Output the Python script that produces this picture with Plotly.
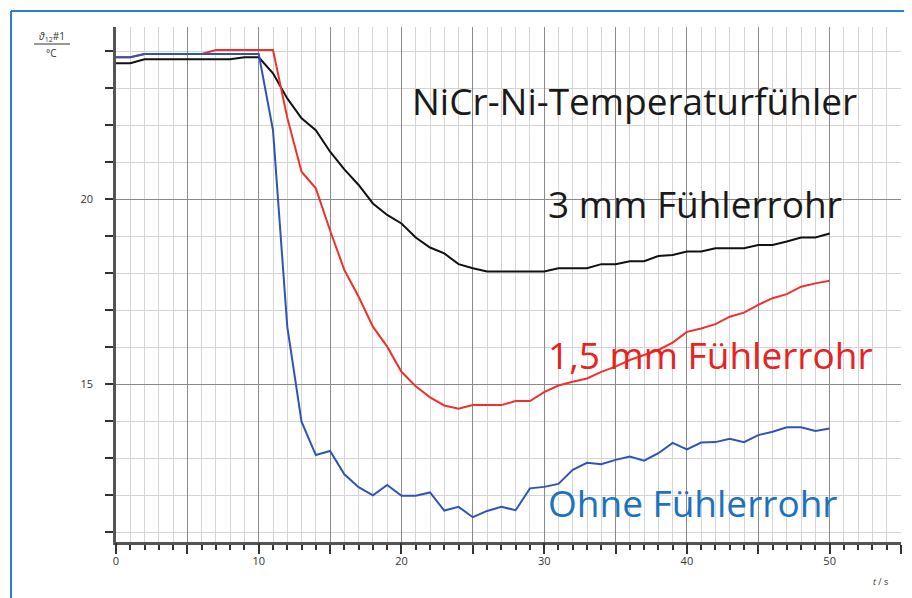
import plotly.graph_objects as go

t = list(range(0, 51))

black_3mm = [23.67, 23.67, 23.78, 23.78, 23.78, 23.78, 23.78, 23.78, 23.78, 23.83, 23.83,
             23.40, 22.72, 22.18, 21.86, 21.28, 20.80, 20.38, 19.88, 19.57, 19.34,
             18.96, 18.69, 18.53, 18.24, 18.13, 18.04, 18.04, 18.04, 18.04, 18.04,
             18.13, 18.13, 18.13, 18.24, 18.24, 18.32, 18.32, 18.46, 18.49, 18.58,
             18.58, 18.67, 18.67, 18.67, 18.76, 18.76, 18.85, 18.96, 18.96, 19.07]

red_15mm = [23.83, 23.83, 23.92, 23.92, 23.92, 23.92, 23.92, 24.03, 24.03, 24.03, 24.03,
            24.03, 22.20, 20.74, 20.29, 19.15, 18.08, 17.36, 16.55, 16.01, 15.33,
            14.94, 14.64, 14.42, 14.33, 14.43, 14.43, 14.43, 14.54, 14.54, 14.78,
            14.96, 15.06, 15.15, 15.33, 15.47, 15.65, 15.78, 15.92, 16.12, 16.41,
            16.50, 16.62, 16.82, 16.93, 17.14, 17.32, 17.43, 17.63, 17.72, 17.79]

blue_ohne = [23.83, 23.83, 23.92, 23.92, 23.92, 23.92, 23.92, 23.92, 23.92, 23.92, 23.92,
             21.86, 16.55, 13.98, 13.08, 13.19, 12.56, 12.21, 11.99, 12.27, 11.98,
             11.98, 12.07, 11.58, 11.68, 11.40, 11.57, 11.68, 11.59, 12.18, 12.22,
             12.30, 12.68, 12.87, 12.83, 12.95, 13.04, 12.93, 13.13, 13.41, 13.23,
             13.42, 13.43, 13.52, 13.43, 13.62, 13.71, 13.83, 13.83, 13.73, 13.80]

x_major_ticks = [0, 5, 10, 15, 20, 25, 30, 35, 40, 45, 50, 55]
x_label_vals = [0, 10, 20, 30, 40, 50]
x_label_text = ["0", "10", "20", "30", "40", "50"]
y_tickvals = [15, 20]
y_ticktext = ["15", "20"]

labels = ["NiCr-Ni-Temperaturfühler", "3 mm Fühlerrohr", "1,5 mm Fühlerrohr", "Ohne Fühlerrohr"]

# page has an 8px body margin; figure geometry is compensated for it
OFF = 8
W, H = 912 - OFF, 598 - OFF
L, T = 116 - OFF, 27 - OFF
R = W - (901 - OFF)
B = H - (542 - OFF)
pw, ph = W - L - R, H - T - B


def px_x(p):  # screen px -> paper
    return (p - OFF - L) / pw


def px_y(p):
    return (H - B - (p - OFF)) / ph


fig = go.Figure()
fig.add_trace(go.Scatter(x=t, y=black_3mm, mode="lines", line=dict(color="#111111", width=2), showlegend=False))
fig.add_trace(go.Scatter(x=t, y=red_15mm, mode="lines", line=dict(color="#f0302c", width=2), showlegend=False))
fig.add_trace(go.Scatter(x=t, y=blue_ohne, mode="lines", line=dict(color="#2f55b4", width=2), showlegend=False))

fig.update_layout(
    xaxis=dict(
        range=[0, 55], tickvals=x_major_ticks, showticklabels=False,
        ticks="outside", ticklen=9, tickwidth=1.5, tickcolor="#333333",
        showgrid=True, gridcolor="#8a8a8a", gridwidth=1,
        minor=dict(dtick=1, showgrid=True, gridcolor="#d4d4d4", gridwidth=1,
                   ticks="outside", ticklen=5, tickcolor="#333333", tickwidth=1.5),
        showline=True, linecolor="#555555", linewidth=2.5,
        zeroline=False,
    ),
    xaxis2=dict(
        overlaying="x", matches="x", anchor="y", side="bottom",
        range=[0, 55], tickvals=x_label_vals, ticktext=x_label_text,
        ticks="outside", ticklen=9, tickwidth=1.5, tickcolor="#333333",
        showgrid=False, showline=False, zeroline=False,
        tickfont=dict(family="Open Sans", size=11, color="#333333"),
    ),
    yaxis=dict(
        range=[10.73, 24.65], tickvals=y_tickvals, ticktext=y_ticktext,
        ticks="outside", ticklen=8, tickwidth=1.5, tickcolor="#333333",
        ticklabelstandoff=10,
        showgrid=True, gridcolor="#8a8a8a", gridwidth=1,
        minor=dict(dtick=1, showgrid=True, gridcolor="#d4d4d4", gridwidth=1,
                   ticks="outside", ticklen=8, tickcolor="#333333", tickwidth=1.5),
        showline=True, linecolor="#555555", linewidth=2.5,
        zeroline=False,
        tickfont=dict(family="Open Sans", size=11, color="#333333"),
    ),
)
# invisible helper trace so the label axis is drawn
fig.add_trace(go.Scatter(x=[x_label_vals[0]], y=[y_tickvals[0]], xaxis="x2", mode="markers",
                         marker=dict(opacity=0), hoverinfo="skip", showlegend=False))

# text labels
fig.add_annotation(x=20.6, y=22.65, text=labels[0], showarrow=False, xanchor="left", yanchor="middle",
                   font=dict(family="Open Sans", size=37, color="#1a1a1a"))
fig.add_annotation(x=30.15, y=19.88, text=labels[1], showarrow=False, xanchor="left", yanchor="middle",
                   font=dict(family="Open Sans", size=37, color="#1a1a1a"))
fig.add_annotation(x=30.15, y=15.8, text=labels[2], showarrow=False, xanchor="left", yanchor="middle",
                   font=dict(family="Open Sans", size=37, color="#e8221f"))
fig.add_annotation(x=30.15, y=11.8, text=labels[3], showarrow=False, xanchor="left", yanchor="middle",
                   font=dict(family="Open Sans", size=37, color="#1b72c0"))

# axis titles
fig.add_annotation(xref="paper", yref="paper", x=px_x(52), y=px_y(37),
                   text="<i>ϑ</i><sub>12</sub>#1", showarrow=False, xanchor="center", yanchor="middle",
                   font=dict(family="Open Sans", size=10, color="#333333"))
fig.add_annotation(xref="paper", yref="paper", x=px_x(51), y=px_y(53),
                   text="°C", showarrow=False, xanchor="center", yanchor="middle",
                   font=dict(family="Open Sans", size=10, color="#333333"))
fig.add_shape(type="line", xref="paper", yref="paper", x0=px_x(34), x1=px_x(70), y0=px_y(44), y1=px_y(44),
              line=dict(color="#333333", width=1))
fig.add_annotation(xref="paper", yref="paper", x=px_x(880), y=px_y(581),
                   text="<i>t</i> / s", showarrow=False, xanchor="center", yanchor="middle",
                   font=dict(family="Open Sans", size=9, color="#333333"))

# blue frame
fig.add_shape(type="line", xref="paper", yref="paper", x0=px_x(11), x1=px_x(915), y0=px_y(11), y1=px_y(11),
              line=dict(color="#2a7fd0", width=2))
fig.add_shape(type="line", xref="paper", yref="paper", x0=px_x(11), x1=px_x(11), y0=px_y(11), y1=px_y(600),
              line=dict(color="#2a7fd0", width=2))

fig.update_layout(
    width=W, height=H,
    margin=dict(l=L, r=R, t=T, b=B),
    paper_bgcolor="white", plot_bgcolor="white",
    showlegend=False,
)

fig.write_html("out.html")
